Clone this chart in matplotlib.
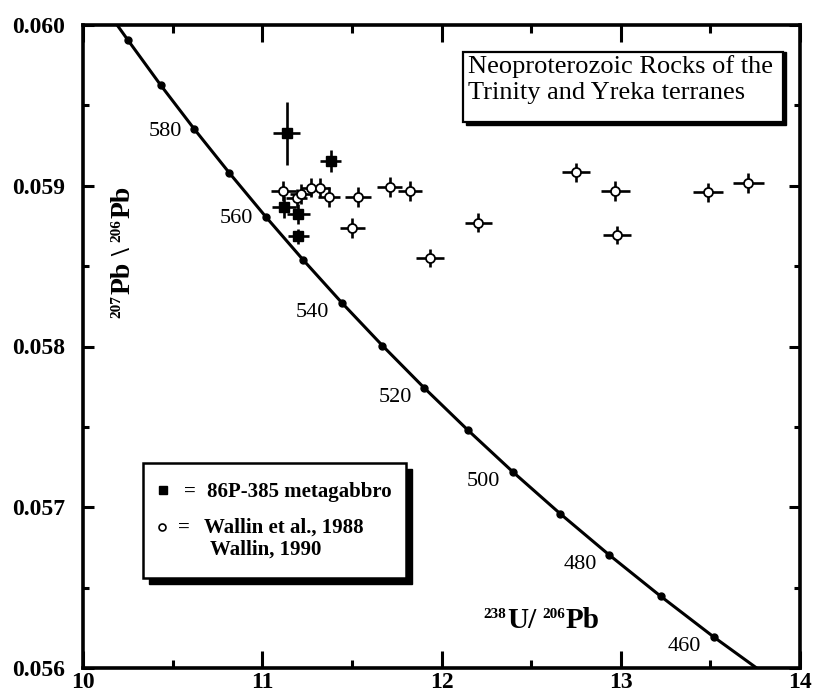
import matplotlib.pyplot as plt
from matplotlib.patches import Rectangle
from matplotlib.lines import Line2D
from matplotlib.ticker import MultipleLocator, FormatStrFormatter

plt.rcParams['font.family'] = ['Liberation Serif', 'DejaVu Serif']

# concordia, one point every 10 Ma
ages = [610, 600, 590, 580, 570, 560, 550, 540, 530, 520, 510, 500, 490, 480, 470, 460, 450]
conc_x = [10.076, 10.252, 10.434, 10.622, 10.817, 11.019, 11.228, 11.445, 11.670, 11.904,
          12.147, 12.399, 12.662, 12.936, 13.222, 13.520, 13.831]
conc_y = [0.060178, 0.059904, 0.059625, 0.059351, 0.059079, 0.058808, 0.058539, 0.058271,
          0.058006, 0.057742, 0.057480, 0.057219, 0.056960, 0.056703, 0.056447, 0.056192, 0.055941]
age_labels = [580, 560, 540, 520, 500, 480, 460]

# 86P-385 metagabbro (filled squares)
gab_x = [11.137, 11.382, 11.122, 11.202, 11.202]
gab_xerr = [0.075, 0.060, 0.068, 0.062, 0.058]
gab_y = [0.059326, 0.059154, 0.058866, 0.058824, 0.058687]
gab_yerr = [0.000195, 0.000066, 0.000068, 0.000062, 0.000047]

# Wallin et al., 1988 / Wallin, 1990 (open circles)
wal_x = [11.117, 11.192, 11.216, 11.270, 11.320, 11.373, 11.533, 11.710, 11.503,
         11.825, 11.936, 12.205, 12.751, 12.970, 12.979, 13.487, 13.711]
wal_xerr = [0.070, 0.060, 0.060, 0.055, 0.060, 0.062, 0.072, 0.068, 0.068,
            0.068, 0.076, 0.075, 0.078, 0.081, 0.080, 0.086, 0.086]
wal_y = [0.058967, 0.058922, 0.058949, 0.058988, 0.058988, 0.058928, 0.058928, 0.058990, 0.058739,
         0.058967, 0.058551, 0.058770, 0.059084, 0.058967, 0.058694, 0.058959, 0.059019]
wal_yerr = [0.000062, 0.000060, 0.000060, 0.000060, 0.000060, 0.000062, 0.000062, 0.000062, 0.000062,
            0.000060, 0.000058, 0.000059, 0.000059, 0.000060, 0.000058, 0.000059, 0.000062]

W, H = 824, 694


def fx(px):
    return px / W


def fy(py):
    return 1 - py / H


fig = plt.figure(figsize=(W / 100, H / 100), dpi=100)
ax = fig.add_axes([fx(83), fy(668), (800 - 83) / W, (668 - 25) / H])
renderer = fig.canvas.get_renderer()


def pieces_text(pieces, x0, y0, vertical=False):
    # write label piece by piece so superscripts stay small; (text, size, rise px, gap px)
    pos = y0 if vertical else x0
    for txt, size, rise, gap in pieces:
        if vertical:
            t = fig.text(fx(x0 - rise), fy(pos), txt, fontsize=size, fontweight='bold',
                         rotation=90, rotation_mode='anchor', ha='left', va='baseline')
            pos -= t.get_window_extent(renderer).height + gap
        else:
            t = fig.text(fx(pos), fy(y0 - rise), txt, fontsize=size, fontweight='bold',
                         ha='left', va='baseline')
            pos += t.get_window_extent(renderer).width + gap


ax.set_xlim(10, 14)
ax.set_ylim(0.056, 0.060)
ax.xaxis.set_major_locator(MultipleLocator(1))
ax.xaxis.set_minor_locator(MultipleLocator(0.5))
ax.yaxis.set_major_locator(MultipleLocator(0.001))
ax.yaxis.set_minor_locator(MultipleLocator(0.0005))
ax.xaxis.set_major_formatter(FormatStrFormatter('%d'))
ax.yaxis.set_major_formatter(FormatStrFormatter('%.3f'))
for s in ax.spines.values():
    s.set_linewidth(2.6)
ax.tick_params(which='both', direction='in', top=True, right=True, width=2.2, labelsize=17)
ax.tick_params(axis='x', which='major', length=12.5, pad=3)
ax.tick_params(axis='x', which='minor', length=6)
ax.tick_params(axis='y', which='major', length=8, pad=13)
ax.tick_params(axis='y', which='minor', length=4.5)
for lab in ax.get_xticklabels() + ax.get_yticklabels():
    lab.set_fontweight('bold')

# concordia curve with 10 Ma dots
ax.plot(conc_x, conc_y, color='k', lw=2.2, zorder=2)
ax.plot(conc_x, conc_y, 'o', color='k', ms=5, zorder=2)
for a, cx, cy in zip(ages, conc_x, conc_y):
    if a in age_labels:
        dy = -1.5 if a >= 560 else -7
        ax.annotate(str(a), (cx, cy), xytext=(-9, dy), textcoords='offset points',
                    ha='right', va='center', fontsize=16)

# data with error crosses
ax.errorbar(wal_x, wal_y, xerr=wal_xerr, yerr=wal_yerr, fmt='o', color='k',
            mfc='white', mec='k', mew=1.3, ms=6.5, elinewidth=1.9, capsize=0, zorder=3)
ax.errorbar(gab_x, gab_y, xerr=gab_xerr, yerr=gab_yerr, fmt='s', color='k',
            mfc='k', mec='k', ms=6.5, elinewidth=1.9, capsize=0, zorder=4)

# axis titles (inside the frame)
pieces_text([('207', 11, 10, 1), ('Pb', 20, 0, 6), ('\\', 20, 0, 6),
             ('206', 11, 10, 1), ('Pb', 20, 0, 0)], 130, 318, vertical=True)
pieces_text([('238', 11, 10, 1), ('U/', 21, 0, 6), ('206', 11, 10, 1),
             ('Pb', 21, 0, 0)], 483, 628)

# title box
fig.patches.append(Rectangle((fx(466), fy(125)), fx(320), (125 - 52) / H,
                             transform=fig.transFigure, facecolor='k', edgecolor='k', zorder=5))
fig.patches.append(Rectangle((fx(463), fy(122)), fx(320), (122 - 52) / H,
                             transform=fig.transFigure, facecolor='white', edgecolor='k',
                             lw=1.6, zorder=6))
fig.text(fx(468), fy(73), 'Neoproterozoic Rocks of the', fontsize=19, va='baseline', zorder=7)
fig.text(fx(468), fy(99), 'Trinity and Yreka terranes', fontsize=19, va='baseline', zorder=7)

# legend box
fig.patches.append(Rectangle((fx(149), fy(584)), fx(263), (584 - 469) / H,
                             transform=fig.transFigure, facecolor='k', edgecolor='k', zorder=5))
fig.patches.append(Rectangle((fx(143), fy(578)), fx(263), (578 - 463) / H,
                             transform=fig.transFigure, facecolor='white', edgecolor='k',
                             lw=1.8, zorder=6))
fig.add_artist(Line2D([fx(163)], [fy(490)], marker='s', ms=5.5, color='k',
                      transform=fig.transFigure, zorder=7))
fig.add_artist(Line2D([fx(162)], [fy(527)], marker='o', ms=5, mfc='white', mec='k', mew=1.2,
                      transform=fig.transFigure, zorder=7))
fig.text(fx(190), fy(497), '=', fontsize=15, fontweight='bold', ha='center', va='baseline', zorder=7)
fig.text(fx(184), fy(533), '=', fontsize=15, fontweight='bold', ha='center', va='baseline', zorder=7)
fig.text(fx(207), fy(497), '86P-385 metagabbro', fontsize=15, fontweight='bold', va='baseline', zorder=7)
fig.text(fx(204), fy(533), 'Wallin et al., 1988', fontsize=15, fontweight='bold', va='baseline', zorder=7)
fig.text(fx(210), fy(555), 'Wallin, 1990', fontsize=15, fontweight='bold', va='baseline', zorder=7)

fig.savefig('out.png', dpi=100)
